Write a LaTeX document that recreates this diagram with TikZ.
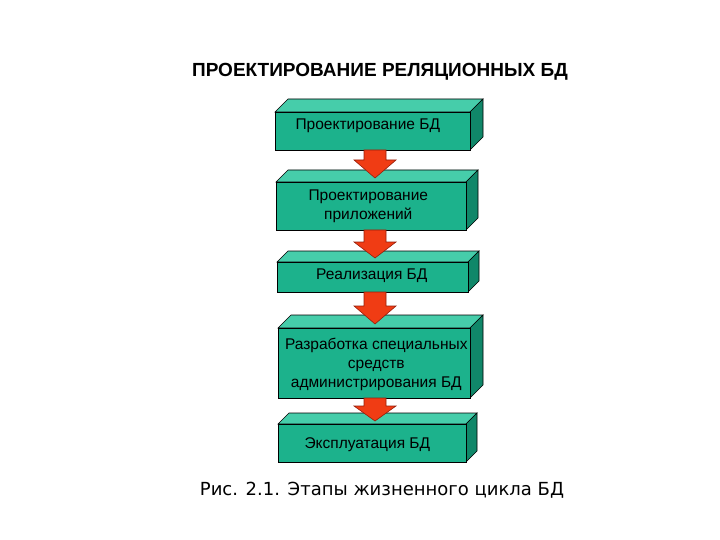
\documentclass[tikz,border=0pt]{standalone}
\usepackage{fontspec}
\setmainfont{Liberation Sans}
\newfontfamily\capfont{DejaVu Sans}
\begin{document}
\begin{tikzpicture}[x=1pt,y=-1pt,
  front/.style={fill=frontc,draw=black,line width=0.6pt},
  topf/.style={fill=topc,draw=black,line width=0.6pt},
  sidef/.style={fill=sidec,draw=black,line width=0.6pt},
  lbl/.style={font=\fontsize{15.5}{19}\selectfont, align=center, text=black},
  arr/.style={fill=arrc,draw=arrd,line width=0.6pt}]
\definecolor{frontc}{RGB}{28,178,140}
\definecolor{topc}{RGB}{70,205,170}
\definecolor{sidec}{RGB}{16,135,105}
\definecolor{arrc}{RGB}{240,60,20}
\definecolor{arrd}{RGB}{150,30,10}
\useasboundingbox (0,0) rectangle (720,540);
\fill[white] (0,0) rectangle (720,540);
\newcommand{\mycuboid}[6]{% x1 y1 x2 y2 d name
  \path[topf] (#1,#2) -- (#1+#5,#2-#5) -- (#3+#5,#2-#5) -- (#3,#2) -- cycle;
  \path[sidef] (#3,#2) -- (#3+#5,#2-#5) -- (#3+#5,#4-#5) -- (#3,#4) -- cycle;
  \node[front,minimum width=#3pt-#1pt,minimum height=#4pt-#2pt,inner sep=0pt,anchor=north west] (#6) at (#1,#2) {};
}
\mycuboid{275}{112}{470}{150}{13}{b1}
\mycuboid{276}{182}{466}{230}{12}{b2}
\mycuboid{277}{262}{468}{292}{11}{b3}
\mycuboid{278}{328}{470}{398}{13}{b4}
\mycuboid{278}{424}{466}{462}{11}{b5}
\node[lbl] (t1) at (b1.center) [xshift=-5pt,yshift=6pt] {Проектирование БД};
\node[lbl] (t2) at (b2.center) [xshift=-3pt] {Проектирование\\приложений};
\node[lbl] (t3) at (b3.center) [xshift=-1pt,yshift=2pt] {Реализация БД};
\node[lbl] (t4) at (b4.center) [xshift=2pt,yshift=-1pt] {Разработка специальных\\средств\\администрирования БД};
\node[lbl] (t5) at (b5.center) [xshift=-5pt,yshift=-1pt] {Эксплуатация БД};
\path[arr] (364,150) -- (386,150) -- (386,160) -- (396,160) -- (375,178) -- (354,160) -- (364,160) -- cycle;
\path[arr] (364,230) -- (386,230) -- (386,242) -- (396,242) -- (375,258) -- (354,242) -- (364,242) -- cycle;
\path[arr] (364,292) -- (386,292) -- (386,306) -- (396,306) -- (375,324) -- (354,306) -- (364,306) -- cycle;
\path[arr] (364,398) -- (386,398) -- (386,406) -- (396,406) -- (375,421) -- (354,406) -- (364,406) -- cycle;
\node[font=\bfseries\fontsize{19}{22}\selectfont] (title) at (380,72) {ПРОЕКТИРОВАНИЕ РЕЛЯЦИОННЫХ БД};
\node[font=\capfont\fontsize{18}{22}\selectfont] (cap) at (382,490) {Рис. 2.1. Этапы жизненного цикла БД};
\end{tikzpicture}
\end{document}
